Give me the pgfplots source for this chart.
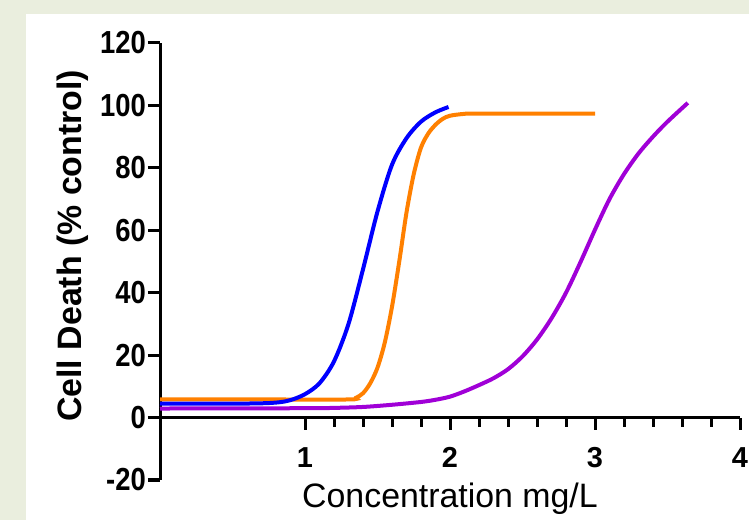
\documentclass[border=0pt]{standalone}
\usepackage{fontspec}
\setmainfont{Liberation Sans}
\newfontfamily\ytickfont{Liberation Sans}[FakeStretch=0.86]
\usepackage{pgfplots}
\pgfplotsset{compat=1.18}
\definecolor{bggreen}{RGB}{234,238,222}
\definecolor{cblue}{RGB}{0,0,255}
\definecolor{corange}{RGB}{255,128,0}
\definecolor{cpurple}{RGB}{160,0,215}
\begin{document}
\begin{tikzpicture}
\useasboundingbox (0,0) rectangle (749bp,520bp);
\fill[bggreen] (0,0) rectangle (749bp,520bp);
\fill[white] (26bp,0) rectangle (749bp,506bp);
\begin{axis}[
  at={(160bp,40bp)}, anchor=south west,
  scale only axis, width=580bp, height=437bp,
  xmin=0, xmax=4, ymin=-20, ymax=120,
  axis x line=middle, axis y line=left,
  axis line style={line width=3bp, -},
  every inner x axis line/.append style={-},
  every outer x axis line/.append style={-},
  every inner y axis line/.append style={-},
  every outer y axis line/.append style={-},
  xtick={1,2,3,4}, xticklabels={1,2,3,4},
  minor x tick num=4,
  ytick={-20,0,20,40,60,80,100,120},
  yticklabels={-20,0,20,40,60,80,100,120},
  tick align=outside,
  major tick length=12bp, minor tick length=9bp,
  every tick/.style={black, line width=3bp},
  xticklabel style={font=\bfseries\fontsize{29}{30}\selectfont, inner sep=1bp, yshift=-17bp},
  yticklabel style={font=\ytickfont\bfseries\fontsize{32}{34}\selectfont, inner sep=2bp},
  clip=false,
  every axis x label/.style={at={(axis description cs:0.5,0)}, anchor=north,
    font=\fontsize{34}{36}\selectfont, inner sep=0pt, yshift=-3bp},
  every axis y label/.style={at={(axis description cs:-0.1345,0.536)}, rotate=90,
    anchor=base, font=\bfseries\fontsize{34}{36}\selectfont, inner sep=0pt},
  xlabel={Concentration mg/L},
  ylabel={Cell Death (\% control)},
]
\addplot[cpurple, line width=4bp, smooth] coordinates {
 (0,2.9) (1.0,3.0) (1.2,3.1) (1.4,3.4) (1.6,4.1) (1.8,5.0) (1.9,5.7) (2.0,6.7)
 (2.1,8.4) (2.2,10.4) (2.3,12.6) (2.4,15.5) (2.5,19.6) (2.6,25.0) (2.7,31.8)
 (2.8,40.0) (2.9,49.8) (3.0,60.2) (3.1,70.0) (3.2,78.0) (3.3,84.6) (3.4,90.0)
 (3.5,94.8) (3.64,100.8)
};
\addplot[corange, line width=4bp, smooth] coordinates {
 (0,5.8) (0.7,5.8) (1.3,5.8) (1.35,6.3) (1.4,7.8) (1.45,11.0) (1.5,16.0)
 (1.55,24.0) (1.6,35.5) (1.65,50.0) (1.7,65.7) (1.75,78.0) (1.8,86.5)
 (1.85,91.0) (1.9,93.8) (1.95,95.7) (2.0,96.7) (2.1,97.3) (2.2,97.4) (3.0,97.4)
};
\addplot[cblue, line width=4bp, smooth] coordinates {
 (0,4.5) (0.6,4.5) (0.8,4.8) (0.9,5.6) (1.0,7.5) (1.1,11.0) (1.2,18.0)
 (1.3,30.0) (1.4,47.5) (1.5,66.0) (1.6,81.0) (1.7,89.5) (1.8,94.8) (1.9,97.8)
 (1.99,99.5)
};
\end{axis}
\end{tikzpicture}
\end{document}
